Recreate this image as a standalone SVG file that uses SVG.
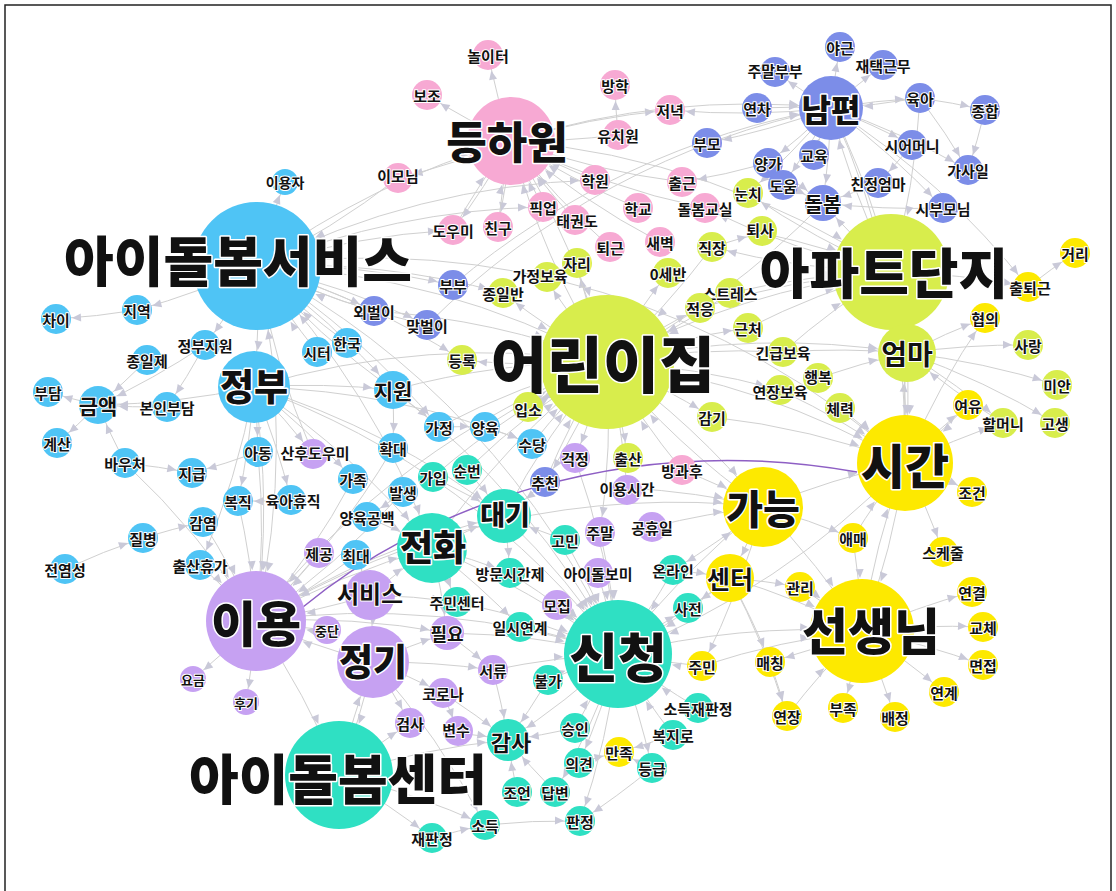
<svg xmlns="http://www.w3.org/2000/svg" width="1116" height="891" viewBox="0 0 1116 891">
<style>
.e{fill:none;stroke:#d0d0d0;stroke-width:1}
.ah{fill:#c9c9d8}
.b{fill:#4fc4f5}.p{fill:#f7a9d3}.v{fill:#7c8de8}.g{fill:#d8ed4c}.y{fill:#fde900}.l{fill:#c6a1f2}.t{fill:#2fe0c3}
text{font-family:"Noto Sans CJK KR","Noto Sans",sans-serif;font-weight:700;text-anchor:middle;dominant-baseline:central;fill:#111;stroke:#fff;stroke-width:2;paint-order:stroke;stroke-linejoin:round}
.xs{font-size:13px}
.k{font-weight:900;stroke-width:3}
</style>
<defs>
<marker id="m13" markerUnits="userSpaceOnUse" markerWidth="9" markerHeight="8" refX="23" refY="4" orient="auto" overflow="visible"><path class="ah" d="M0 0L9 4L0 8z"/></marker>
<marker id="m14" markerUnits="userSpaceOnUse" markerWidth="9" markerHeight="8" refX="25" refY="4" orient="auto" overflow="visible"><path class="ah" d="M0 0L9 4L0 8z"/></marker>
<marker id="m16" markerUnits="userSpaceOnUse" markerWidth="9" markerHeight="8" refX="27" refY="4" orient="auto" overflow="visible"><path class="ah" d="M0 0L9 4L0 8z"/></marker>
<marker id="m18" markerUnits="userSpaceOnUse" markerWidth="9" markerHeight="8" refX="29" refY="4" orient="auto" overflow="visible"><path class="ah" d="M0 0L9 4L0 8z"/></marker>
<marker id="m19" markerUnits="userSpaceOnUse" markerWidth="9" markerHeight="8" refX="30" refY="4" orient="auto" overflow="visible"><path class="ah" d="M0 0L9 4L0 8z"/></marker>
<marker id="m21" markerUnits="userSpaceOnUse" markerWidth="9" markerHeight="8" refX="31" refY="4" orient="auto" overflow="visible"><path class="ah" d="M0 0L9 4L0 8z"/></marker>
<marker id="m24" markerUnits="userSpaceOnUse" markerWidth="9" markerHeight="8" refX="34" refY="4" orient="auto" overflow="visible"><path class="ah" d="M0 0L9 4L0 8z"/></marker>
<marker id="m25" markerUnits="userSpaceOnUse" markerWidth="9" markerHeight="8" refX="35" refY="4" orient="auto" overflow="visible"><path class="ah" d="M0 0L9 4L0 8z"/></marker>
<marker id="m27" markerUnits="userSpaceOnUse" markerWidth="9" markerHeight="8" refX="37" refY="4" orient="auto" overflow="visible"><path class="ah" d="M0 0L9 4L0 8z"/></marker>
<marker id="m29" markerUnits="userSpaceOnUse" markerWidth="9" markerHeight="8" refX="39" refY="4" orient="auto" overflow="visible"><path class="ah" d="M0 0L9 4L0 8z"/></marker>
<marker id="m32" markerUnits="userSpaceOnUse" markerWidth="9" markerHeight="8" refX="42" refY="4" orient="auto" overflow="visible"><path class="ah" d="M0 0L9 4L0 8z"/></marker>
<marker id="m35" markerUnits="userSpaceOnUse" markerWidth="9" markerHeight="8" refX="45" refY="4" orient="auto" overflow="visible"><path class="ah" d="M0 0L9 4L0 8z"/></marker>
<marker id="m36" markerUnits="userSpaceOnUse" markerWidth="9" markerHeight="8" refX="46" refY="4" orient="auto" overflow="visible"><path class="ah" d="M0 0L9 4L0 8z"/></marker>
<marker id="m40" markerUnits="userSpaceOnUse" markerWidth="9" markerHeight="8" refX="50" refY="4" orient="auto" overflow="visible"><path class="ah" d="M0 0L9 4L0 8z"/></marker>
<marker id="m44" markerUnits="userSpaceOnUse" markerWidth="9" markerHeight="8" refX="54" refY="4" orient="auto" overflow="visible"><path class="ah" d="M0 0L9 4L0 8z"/></marker>
<marker id="m48" markerUnits="userSpaceOnUse" markerWidth="9" markerHeight="8" refX="58" refY="4" orient="auto" overflow="visible"><path class="ah" d="M0 0L9 4L0 8z"/></marker>
<marker id="m50" markerUnits="userSpaceOnUse" markerWidth="9" markerHeight="8" refX="60" refY="4" orient="auto" overflow="visible"><path class="ah" d="M0 0L9 4L0 8z"/></marker>
<marker id="m52" markerUnits="userSpaceOnUse" markerWidth="9" markerHeight="8" refX="62" refY="4" orient="auto" overflow="visible"><path class="ah" d="M0 0L9 4L0 8z"/></marker>
<marker id="m54" markerUnits="userSpaceOnUse" markerWidth="9" markerHeight="8" refX="64" refY="4" orient="auto" overflow="visible"><path class="ah" d="M0 0L9 4L0 8z"/></marker>
<marker id="m58" markerUnits="userSpaceOnUse" markerWidth="9" markerHeight="8" refX="68" refY="4" orient="auto" overflow="visible"><path class="ah" d="M0 0L9 4L0 8z"/></marker>
<marker id="m64" markerUnits="userSpaceOnUse" markerWidth="9" markerHeight="8" refX="74" refY="4" orient="auto" overflow="visible"><path class="ah" d="M0 0L9 4L0 8z"/></marker>
<marker id="m67" markerUnits="userSpaceOnUse" markerWidth="9" markerHeight="8" refX="77" refY="4" orient="auto" overflow="visible"><path class="ah" d="M0 0L9 4L0 8z"/></marker>
</defs>
<rect x="0" y="0" width="1116" height="891" fill="#fff"/>
<path d="M5 891V5H1111V891" fill="none" stroke="#222" stroke-width="1.5"/>
<g id="connectors">
<g class="e" marker-end="url(#m13)">
<path d="M257 266A800 800 0 0 1 285 182"/><path d="M256 621A800 800 0 0 1 193 679"/><path d="M256 621A800 800 0 0 1 246 702"/>
</g>
<g class="e" marker-end="url(#m14)">
<path d="M137 310A800 800 0 0 1 56 319"/><path d="M257 266A800 800 0 0 1 137 310"/><path d="M98 405A800 800 0 0 1 48 392"/><path d="M98 405A800 800 0 0 1 57 443"/><path d="M205 345A800 800 0 0 1 167 407"/><path d="M125 463A800 800 0 0 1 192 473"/><path d="M258 452A800 800 0 0 1 192 473"/><path d="M65 569A800 800 0 0 1 143 538"/><path d="M143 538A800 800 0 0 1 203 522"/><path d="M291 500A800 800 0 0 1 238 501"/><path d="M257 266A800 800 0 0 1 205 345"/><path d="M254 387A800 800 0 0 1 258 452"/><path d="M393 390A800 800 0 0 1 393 448"/><path d="M393 390A800 800 0 0 1 439 427"/><path d="M439 427A800 800 0 0 1 485 427"/><path d="M485 427A800 800 0 0 1 532 444"/><path d="M254 387A800 800 0 0 1 532 444"/><path d="M254 387A800 800 0 0 1 353 479"/><path d="M403 492A800 800 0 0 1 367 517"/><path d="M257 266A800 800 0 0 1 453 285"/><path d="M257 266A800 800 0 0 1 503 293"/><path d="M257 266A800 800 0 0 1 453 230"/><path d="M618 654A800 800 0 0 1 688 608"/><path d="M652 768A800 800 0 0 1 619 752"/><path d="M673 735A800 800 0 0 1 619 752"/><path d="M579 763A800 800 0 0 1 619 752"/><path d="M652 768A800 800 0 0 1 580 821"/><path d="M485 825A800 800 0 0 1 580 821"/><path d="M432 838A800 800 0 0 1 485 825"/><path d="M373 662A800 800 0 0 1 443 693"/><path d="M373 662A800 800 0 0 1 410 723"/><path d="M443 693A800 800 0 0 1 458 733"/><path d="M373 662A800 800 0 0 1 485 825"/><path d="M339 775A800 800 0 0 1 485 825"/><path d="M447 633A800 800 0 0 1 493 670"/><path d="M432 548A800 800 0 0 1 457 602"/><path d="M862 631A800 800 0 0 1 972 592"/><path d="M862 631A800 800 0 0 1 983 627"/><path d="M862 631A800 800 0 0 1 983 665"/><path d="M862 631A800 800 0 0 1 944 692"/><path d="M862 631A800 800 0 0 1 895 717"/><path d="M862 631A800 800 0 0 1 843 708"/><path d="M862 631A800 800 0 0 1 770 662"/><path d="M770 662A800 800 0 0 1 787 716"/><path d="M905 463A800 800 0 0 1 972 492"/><path d="M905 463A800 800 0 0 1 943 552"/><path d="M905 463A800 800 0 0 1 968 405"/><path d="M730 578A800 800 0 0 1 800 587"/><path d="M907 353A800 800 0 0 1 1028 345"/><path d="M907 353A800 800 0 0 1 1057 385"/><path d="M907 353A800 800 0 0 1 1055 423"/><path d="M907 353A800 800 0 0 1 985 318"/><path d="M891 272A800 800 0 0 1 1028 287"/><path d="M1028 287A800 800 0 0 1 1075 253"/><path d="M831 108A800 800 0 0 1 1028 287"/><path d="M905 463A800 800 0 0 1 985 318"/><path d="M607 362A800 800 0 0 1 528 405"/><path d="M607 362A800 800 0 0 1 462 360"/><path d="M607 362A800 800 0 0 1 712 417"/><path d="M607 362A800 800 0 0 1 628 458"/><path d="M607 362A800 800 0 0 1 575 458"/><path d="M607 362A800 800 0 0 1 700 308"/><path d="M607 362A800 800 0 0 1 748 328"/><path d="M607 362A800 800 0 0 1 783 352"/><path d="M607 362A800 800 0 0 1 780 390"/><path d="M607 362A800 800 0 0 1 545 277"/><path d="M607 362A800 800 0 0 1 503 293"/><path d="M607 362A800 800 0 0 1 668 273"/><path d="M607 362A800 800 0 0 1 577 263"/><path d="M511 141A800 800 0 0 1 488 55"/><path d="M511 141A800 800 0 0 1 427 95"/><path d="M511 141A800 800 0 0 1 398 178"/><path d="M618 135A800 800 0 0 1 615 85"/><path d="M511 141A800 800 0 0 1 670 110"/><path d="M831 108A800 800 0 0 1 670 110"/><path d="M768 163A800 800 0 0 1 682 182"/><path d="M712 247A800 800 0 0 1 762 233"/><path d="M831 108A800 800 0 0 1 840 47"/><path d="M831 108A800 800 0 0 1 883 65"/><path d="M831 108A800 800 0 0 1 775 72"/><path d="M831 108A800 800 0 0 1 920 98"/><path d="M920 98A800 800 0 0 1 985 110"/><path d="M985 110A800 800 0 0 1 968 170"/><path d="M920 98A800 800 0 0 1 968 170"/><path d="M831 108A800 800 0 0 1 912 145"/><path d="M831 108A800 800 0 0 1 968 170"/><path d="M912 145A800 800 0 0 1 878 183"/><path d="M831 108A800 800 0 0 1 943 208"/><path d="M831 108A800 800 0 0 1 707 143"/><path d="M257 266A800 800 0 0 1 543 207"/><path d="M257 266A800 800 0 0 1 595 180"/><path d="M730 578A800 800 0 0 1 688 608"/>
<path d="M907 353A800 800 0 0 1 1003 423"/><path d="M905 463A800 800 0 0 1 1003 423"/><path d="M618 654A800 800 0 0 1 580 821"/><path d="M618 654A800 800 0 0 1 652 768"/><path d="M618 654A800 800 0 0 1 579 763"/><path d="M618 654A800 800 0 0 1 555 792"/><path d="M339 775A800 800 0 0 1 410 723"/><path d="M339 775A800 800 0 0 1 432 838"/><path d="M373 662A800 800 0 0 1 493 670"/><path d="M370 595A800 800 0 0 1 457 602"/><path d="M432 548A800 800 0 0 1 510 573"/><path d="M432 548A800 800 0 0 1 520 627"/><path d="M504 516A800 800 0 0 1 510 573"/><path d="M763 507A800 800 0 0 1 673 570"/><path d="M763 507A800 800 0 0 1 702 666"/><path d="M730 578A800 800 0 0 1 770 662"/><path d="M730 578A800 800 0 0 1 787 716"/><path d="M763 507A800 800 0 0 1 853 538"/><path d="M607 362A800 800 0 0 1 627 488"/><path d="M607 362A800 800 0 0 1 600 532"/><path d="M607 362A800 800 0 0 1 545 482"/><path d="M257 266A800 800 0 0 1 374 311"/><path d="M257 266A800 800 0 0 1 427 325"/><path d="M257 266A800 800 0 0 1 462 360"/><path d="M257 266A800 800 0 0 1 439 427"/><path d="M254 387A800 800 0 0 1 313 454"/><path d="M254 387A800 800 0 0 1 291 500"/><path d="M254 387A800 800 0 0 1 238 501"/><path d="M254 387A800 800 0 0 1 200 565"/><path d="M831 108A800 800 0 0 1 783 185"/><path d="M831 108A800 800 0 0 1 768 163"/><path d="M831 108A800 800 0 0 1 748 193"/><path d="M891 272A800 800 0 0 1 748 193"/><path d="M891 272A800 800 0 0 1 712 247"/><path d="M891 272A800 800 0 0 1 705 208"/><path d="M511 141A800 800 0 0 1 453 230"/><path d="M511 141A800 800 0 0 1 498 227"/>
</g>
<g class="e" marker-end="url(#m16)"><path d="M432 548A800 800 0 0 1 447 633"/><path d="M256 621A800 800 0 0 1 447 633"/><path d="M373 662A800 800 0 0 1 447 633"/></g>
<g class="e" marker-end="url(#m18)">
<path d="M891 272A800 800 0 0 1 823 203"/><path d="M878 183A800 800 0 0 1 823 203"/><path d="M943 208A800 800 0 0 1 823 203"/><path d="M768 163A800 800 0 0 1 823 203"/><path d="M783 185A800 800 0 0 1 823 203"/><path d="M831 108A800 800 0 0 1 823 203"/>
</g>
<g class="e" marker-end="url(#m19)">
<path d="M125 463A800 800 0 0 1 98 405"/><path d="M147 360A800 800 0 0 1 98 405"/><path d="M205 345A800 800 0 0 1 98 405"/><path d="M254 387A800 800 0 0 1 98 405"/><path d="M167 407A800 800 0 0 1 98 405"/><path d="M254 387A800 800 0 0 1 393 390"/><path d="M257 266A800 800 0 0 1 393 390"/>
</g>
<g class="e" marker-end="url(#m21)">
<path d="M517 792A800 800 0 0 1 508 740"/><path d="M555 792A800 800 0 0 1 508 740"/><path d="M493 670A800 800 0 0 1 508 740"/><path d="M548 680A800 800 0 0 1 508 740"/><path d="M443 693A800 800 0 0 1 508 740"/><path d="M458 733A800 800 0 0 1 508 740"/><path d="M618 654A800 800 0 0 1 508 740"/><path d="M575 728A800 800 0 0 1 508 740"/><path d="M339 775A800 800 0 0 1 508 740"/>
</g>
<g class="e" marker-end="url(#m24)"><path d="M763 507A800 800 0 0 1 730 578"/><path d="M673 570A800 800 0 0 1 730 578"/></g>
<g class="e" marker-end="url(#m25)"><path d="M356 555A800 800 0 0 1 370 595"/></g>
<g class="e" marker-end="url(#m27)">
<path d="M432 548A800 800 0 0 1 504 516"/><path d="M433 477A800 800 0 0 1 504 516"/><path d="M467 470A800 800 0 0 1 504 516"/><path d="M545 482A800 800 0 0 1 504 516"/><path d="M565 540A800 800 0 0 1 504 516"/><path d="M254 387A800 800 0 0 1 504 516"/><path d="M256 621A800 800 0 0 1 504 516"/>
</g>
<g class="e" marker-end="url(#m29)">
<path d="M891 272A800 800 0 0 1 907 353"/><path d="M905 463A800 800 0 0 1 907 353"/><path d="M1003 423A800 800 0 0 1 907 353"/><path d="M818 378A800 800 0 0 1 907 353"/><path d="M783 352A800 800 0 0 1 907 353"/><path d="M607 362A800 800 0 0 1 907 353"/><path d="M831 108A800 800 0 0 1 907 353"/>
</g>
<g class="e" marker-end="url(#m32)">
<path d="M757 108A800 800 0 0 1 831 108"/><path d="M920 98A800 800 0 0 1 831 108"/><path d="M814 155A800 800 0 0 1 831 108"/><path d="M891 272A800 800 0 0 1 831 108"/><path d="M453 285A800 800 0 0 1 831 108"/><path d="M427 325A800 800 0 0 1 831 108"/><path d="M511 141A800 800 0 0 1 831 108"/>
</g>
<g class="e" marker-end="url(#m35)">
<path d="M257 266A800 800 0 0 1 432 548"/><path d="M370 595A800 800 0 0 1 432 548"/><path d="M254 387A800 800 0 0 1 432 548"/><path d="M367 517A800 800 0 0 1 432 548"/><path d="M256 621A800 800 0 0 1 432 548"/>
</g>
<g class="e" marker-end="url(#m36)">
<path d="M257 266A800 800 0 0 1 254 387"/><path d="M370 595A800 800 0 0 1 373 662"/><path d="M339 775A800 800 0 0 1 373 662"/>
</g>
<g class="e" marker-end="url(#m40)">
<path d="M607 362A800 800 0 0 1 763 507"/><path d="M618 654A800 800 0 0 1 763 507"/><path d="M627 488A800 800 0 0 1 763 507"/><path d="M682 470A800 800 0 0 1 763 507"/><path d="M652 527A800 800 0 0 1 763 507"/><path d="M256 621A800 800 0 0 1 763 507"/>
</g>
<g class="e" marker-end="url(#m44)">
<path d="M257 266A800 800 0 0 1 511 141"/><path d="M607 362A800 800 0 0 1 511 141"/><path d="M610 247A800 800 0 0 1 511 141"/><path d="M575 220A800 800 0 0 1 511 141"/><path d="M543 207A800 800 0 0 1 511 141"/><path d="M498 227A800 800 0 0 1 511 141"/><path d="M453 230A800 800 0 0 1 511 141"/><path d="M595 180A800 800 0 0 1 511 141"/><path d="M638 208A800 800 0 0 1 511 141"/><path d="M660 242A800 800 0 0 1 511 141"/><path d="M705 208A800 800 0 0 1 511 141"/><path d="M682 182A800 800 0 0 1 511 141"/><path d="M618 135A800 800 0 0 1 511 141"/>
</g>
<g class="e" marker-end="url(#m48)">
<path d="M763 507A800 800 0 0 1 905 463"/><path d="M968 405A800 800 0 0 1 905 463"/><path d="M907 353A800 800 0 0 1 905 463"/><path d="M862 631A800 800 0 0 1 905 463"/><path d="M607 362A800 800 0 0 1 905 463"/><path d="M840 408A800 800 0 0 1 905 463"/><path d="M780 390A800 800 0 0 1 905 463"/><path d="M712 417A800 800 0 0 1 905 463"/><path d="M853 538A800 800 0 0 1 905 463"/><path d="M257 266A800 800 0 0 1 905 463"/><path d="M891 272A800 800 0 0 1 905 463"/><path d="M831 108A800 800 0 0 1 905 463"/>
</g>
<g class="e" marker-end="url(#m50)">
<path d="M254 387A800 800 0 0 1 256 621"/><path d="M257 266A800 800 0 0 1 256 621"/><path d="M200 565A800 800 0 0 1 256 621"/><path d="M203 522A800 800 0 0 1 256 621"/><path d="M258 452A800 800 0 0 1 256 621"/><path d="M125 463A800 800 0 0 1 256 621"/><path d="M356 555A800 800 0 0 1 256 621"/><path d="M319 553A800 800 0 0 1 256 621"/><path d="M327 630A800 800 0 0 1 256 621"/><path d="M370 595A800 800 0 0 1 256 621"/><path d="M373 662A800 800 0 0 1 256 621"/><path d="M393 448A800 800 0 0 1 256 621"/><path d="M353 479A800 800 0 0 1 256 621"/><path d="M403 492A800 800 0 0 1 256 621"/><path d="M238 501A800 800 0 0 1 256 621"/>
</g>
<g class="e" marker-end="url(#m52)">
<path d="M787 716A800 800 0 0 1 862 631"/><path d="M905 463A800 800 0 0 1 862 631"/><path d="M800 587A800 800 0 0 1 862 631"/><path d="M763 507A800 800 0 0 1 862 631"/><path d="M618 654A800 800 0 0 1 862 631"/><path d="M730 578A800 800 0 0 1 862 631"/><path d="M853 538A800 800 0 0 1 862 631"/><path d="M702 666A800 800 0 0 1 862 631"/>
</g>
<g class="e" marker-end="url(#m54)">
<path d="M257 266A800 800 0 0 1 618 654"/><path d="M254 387A800 800 0 0 1 618 654"/><path d="M432 548A800 800 0 0 1 618 654"/><path d="M510 573A800 800 0 0 1 618 654"/><path d="M457 602A800 800 0 0 1 618 654"/><path d="M520 627A800 800 0 0 1 618 654"/><path d="M557 605A800 800 0 0 1 618 654"/><path d="M447 633A800 800 0 0 1 618 654"/><path d="M493 670A800 800 0 0 1 618 654"/><path d="M548 680A800 800 0 0 1 618 654"/><path d="M673 570A800 800 0 0 1 618 654"/><path d="M702 666A800 800 0 0 1 618 654"/><path d="M698 708A800 800 0 0 1 618 654"/><path d="M673 735A800 800 0 0 1 618 654"/><path d="M575 728A800 800 0 0 1 618 654"/><path d="M730 578A800 800 0 0 1 618 654"/><path d="M504 516A800 800 0 0 1 618 654"/><path d="M598 573A800 800 0 0 1 618 654"/><path d="M600 532A800 800 0 0 1 618 654"/><path d="M565 540A800 800 0 0 1 618 654"/><path d="M393 390A800 800 0 0 1 618 654"/><path d="M575 458A800 800 0 0 1 618 654"/><path d="M905 463A800 800 0 0 1 618 654"/><path d="M256 621A800 800 0 0 1 618 654"/><path d="M256 621A800 800 0 0 1 339 775"/><path d="M373 662A800 800 0 0 1 339 775"/>
</g>
<g class="e" marker-end="url(#m58)">
<path d="M607 362A800 800 0 0 1 891 272"/><path d="M762 233A800 800 0 0 1 891 272"/><path d="M920 98A800 800 0 0 1 891 272"/><path d="M511 141A800 800 0 0 1 891 272"/><path d="M700 308A800 800 0 0 1 891 272"/><path d="M748 328A800 800 0 0 1 891 272"/><path d="M730 293A800 800 0 0 1 891 272"/><path d="M783 352A800 800 0 0 1 891 272"/>
</g>
<g class="e" marker-end="url(#m64)">
<path d="M317 352A800 800 0 0 1 257 266"/><path d="M347 343A800 800 0 0 1 257 266"/><path d="M393 390A800 800 0 0 1 257 266"/><path d="M374 311A800 800 0 0 1 257 266"/><path d="M427 325A800 800 0 0 1 257 266"/><path d="M398 178A800 800 0 0 1 257 266"/><path d="M313 454A800 800 0 0 1 257 266"/>
</g>
<g class="e" marker-end="url(#m67)">
<path d="M393 390A800 800 0 0 1 607 362"/><path d="M504 516A800 800 0 0 1 607 362"/><path d="M712 247A800 800 0 0 1 607 362"/><path d="M730 293A800 800 0 0 1 607 362"/><path d="M682 470A800 800 0 0 1 607 362"/><path d="M374 311A800 800 0 0 1 607 362"/><path d="M823 203A800 800 0 0 1 607 362"/><path d="M439 427A800 800 0 0 1 607 362"/><path d="M485 427A800 800 0 0 1 607 362"/><path d="M532 444A800 800 0 0 1 607 362"/><path d="M433 477A800 800 0 0 1 607 362"/><path d="M467 470A800 800 0 0 1 607 362"/><path d="M763 507A800 800 0 0 1 607 362"/><path d="M511 141A800 800 0 0 1 607 362"/><path d="M545 482A800 800 0 0 1 607 362"/><path d="M256 621A800 800 0 0 1 607 362"/><path d="M432 548A800 800 0 0 1 607 362"/><path d="M257 266A800 800 0 0 1 607 362"/><path d="M254 387A800 800 0 0 1 607 362"/>
</g>
<path d="M303 607C420 510 620 430 857 472" fill="none" stroke="#8e5fc4" stroke-width="1.5"/>
</g>
<g id="nodes" font-size="15">
<g id="n_svc"><circle class="b" cx="257" cy="266" r="64"/><text class="k" x="238" y="258" font-size="54">아이돌봄서비스</text></g>
<g id="n_user"><circle class="b" cx="285" cy="182" r="13"/><text x="285" y="182" font-size="14">이용자</text></g>
<g id="n_diff"><circle class="b" cx="56" cy="319" r="15"/><text x="56" y="319">차이</text></g>
<g id="n_region"><circle class="b" cx="137" cy="310" r="15"/><text x="137" y="310">지역</text></g>
<g id="n_govsup"><circle class="b" cx="205" cy="345" r="15"/><text x="205" y="345">정부지원</text></g>
<g id="n_fullday"><circle class="b" cx="147" cy="360" r="15"/><text x="147" y="360">종일제</text></g>
<g id="n_burden"><circle class="b" cx="48" cy="392" r="15"/><text x="48" y="392">부담</text></g>
<g id="n_amount"><circle class="b" cx="98" cy="405" r="19"/><text x="98" y="405" font-size="21">금액</text></g>
<g id="n_selfpay"><circle class="b" cx="167" cy="407" r="15"/><text x="167" y="407">본인부담</text></g>
<g id="n_calc"><circle class="b" cx="57" cy="443" r="15"/><text x="57" y="443">계산</text></g>
<g id="n_voucher"><circle class="b" cx="125" cy="463" r="15"/><text x="125" y="463">바우처</text></g>
<g id="n_pay"><circle class="b" cx="192" cy="473" r="15"/><text x="192" y="473">지급</text></g>
<g id="n_child"><circle class="b" cx="258" cy="452" r="15"/><text x="258" y="452">아동</text></g>
<g id="n_gov"><circle class="b" cx="254" cy="387" r="36"/><text class="k" x="254" y="385" font-size="37">정부</text></g>
<g id="n_return"><circle class="b" cx="238" cy="501" r="15"/><text x="238" y="501">복직</text></g>
<g id="n_parental"><circle class="b" cx="291" cy="500" r="15"/><text x="293" y="500">육아휴직</text></g>
<g id="n_infect"><circle class="b" cx="203" cy="522" r="15"/><text x="203" y="522">감염</text></g>
<g id="n_disease"><circle class="b" cx="143" cy="538" r="15"/><text x="143" y="538">질병</text></g>
<g id="n_contag"><circle class="b" cx="65" cy="569" r="15"/><text x="65" y="569">전염성</text></g>
<g id="n_matern"><circle class="b" cx="200" cy="565" r="15"/><text x="200" y="565">출산휴가</text></g>
<g id="n_support"><circle class="b" cx="393" cy="390" r="19"/><text x="393" y="390" font-size="21">지원</text></g>
<g id="n_korea"><circle class="b" cx="347" cy="343" r="15"/><text x="347" y="343">한국</text></g>
<g id="n_sitter"><circle class="b" cx="317" cy="352" r="15"/><text x="317" y="352">시터</text></g>
<g id="n_home"><circle class="b" cx="439" cy="427" r="15"/><text x="439" y="427">가정</text></g>
<g id="n_rearing"><circle class="b" cx="485" cy="427" r="15"/><text x="485" y="427">양육</text></g>
<g id="n_allow"><circle class="b" cx="532" cy="444" r="15"/><text x="532" y="444">수당</text></g>
<g id="n_expand"><circle class="b" cx="393" cy="448" r="15"/><text x="393" y="448">확대</text></g>
<g id="n_family"><circle class="b" cx="353" cy="479" r="15"/><text x="353" y="479">가족</text></g>
<g id="n_occur"><circle class="b" cx="403" cy="492" r="15"/><text x="403" y="492">발생</text></g>
<g id="n_gap"><circle class="b" cx="367" cy="517" r="15"/><text x="367" y="517">양육공백</text></g>
<g id="n_max"><circle class="b" cx="356" cy="555" r="15"/><text x="356" y="555">최대</text></g>
<g id="n_use"><circle class="l" cx="256" cy="621" r="50"/><text class="k" x="256" y="620" font-size="49">이용</text></g>
<g id="n_fee"><circle class="l" cx="193" cy="679" r="13"/><text class="xs" x="193" y="679">요금</text></g>
<g id="n_review"><circle class="l" cx="246" cy="702" r="13"/><text class="xs" x="246" y="702">후기</text></g>
<g id="n_postnatal"><circle class="l" cx="313" cy="454" r="15"/><text x="315" y="452">산후도우미</text></g>
<g id="n_provide"><circle class="l" cx="319" cy="553" r="15"/><text x="319" y="553">제공</text></g>
<g id="n_service"><circle class="l" cx="370" cy="595" r="25"/><text x="370" y="592" font-size="24">서비스</text></g>
<g id="n_stop"><circle class="l" cx="327" cy="630" r="14"/><text class="xs" x="327" y="630">중단</text></g>
<g id="n_regular"><circle class="l" cx="373" cy="662" r="36"/><text class="k" x="373" y="660" font-size="37">정기</text></g>
<g id="n_need"><circle class="l" cx="447" cy="633" r="17"/><text x="447" y="633" font-size="18">필요</text></g>
<g id="n_docs"><circle class="l" cx="493" cy="670" r="15"/><text x="493" y="670">서류</text></g>
<g id="n_corona"><circle class="l" cx="443" cy="693" r="15"/><text x="443" y="693">코로나</text></g>
<g id="n_test"><circle class="l" cx="410" cy="723" r="15"/><text x="410" y="723">검사</text></g>
<g id="n_var"><circle class="l" cx="458" cy="731" r="15"/><text x="456" y="729">변수</text></g>
<g id="n_recruit"><circle class="l" cx="557" cy="605" r="15"/><text x="557" y="605">모집</text></g>
<g id="n_worry"><circle class="l" cx="575" cy="458" r="15"/><text x="575" y="458">걱정</text></g>
<g id="n_usetime"><circle class="l" cx="627" cy="490" r="15"/><text x="627" y="488">이용시간</text></g>
<g id="n_weekend"><circle class="l" cx="600" cy="532" r="15"/><text x="600" y="532">주말</text></g>
<g id="n_holiday"><circle class="l" cx="652" cy="527" r="15"/><text x="652" y="527">공휴일</text></g>
<g id="n_carer"><circle class="l" cx="598" cy="573" r="15"/><text x="598" y="573">아이돌보미</text></g>
<g id="n_center6"><circle class="t" cx="339" cy="775" r="54"/><text class="k" x="338" y="776" font-size="54">아이돌봄센터</text></g>
<g id="n_phone"><circle class="t" cx="432" cy="548" r="35"/><text class="k" x="433" y="545" font-size="36">전화</text></g>
<g id="n_wait"><circle class="t" cx="504" cy="516" r="27"/><text class="k" x="505" y="513" font-size="27">대기</text></g>
<g id="n_join"><circle class="t" cx="433" cy="477" r="15"/><text x="433" y="477">가입</text></g>
<g id="n_turn"><circle class="t" cx="467" cy="470" r="15"/><text x="467" y="470">순번</text></g>
<g id="n_concern"><circle class="t" cx="565" cy="540" r="15"/><text x="565" y="540">고민</text></g>
<g id="n_online"><circle class="t" cx="673" cy="570" r="15"/><text x="673" y="570">온라인</text></g>
<g id="n_visit"><circle class="t" cx="510" cy="573" r="15"/><text x="510" y="573">방문시간제</text></g>
<g id="n_commcenter"><circle class="t" cx="457" cy="602" r="15"/><text x="457" y="602">주민센터</text></g>
<g id="n_templink"><circle class="t" cx="520" cy="627" r="15"/><text x="520" y="627">일시연계</text></g>
<g id="n_prior"><circle class="t" cx="688" cy="608" r="15"/><text x="688" y="608">사전</text></g>
<g id="n_apply"><circle class="t" cx="618" cy="654" r="54"/><text class="k" x="618" y="655" font-size="53">신청</text></g>
<g id="n_imposs"><circle class="t" cx="548" cy="680" r="15"/><text x="548" y="680">불가</text></g>
<g id="n_audit"><circle class="t" cx="508" cy="740" r="21"/><text x="511" y="741" font-size="22">감사</text></g>
<g id="n_approve"><circle class="t" cx="575" cy="728" r="15"/><text x="575" y="728">승인</text></g>
<g id="n_rejudge"><circle class="t" cx="698" cy="708" r="15"/><text x="698" y="708">소득재판정</text></g>
<g id="n_welfare"><circle class="t" cx="673" cy="735" r="15"/><text x="673" y="735">복지로</text></g>
<g id="n_opinion"><circle class="t" cx="579" cy="763" r="15"/><text x="579" y="763">의견</text></g>
<g id="n_grade"><circle class="t" cx="652" cy="768" r="15"/><text x="652" y="768">등급</text></g>
<g id="n_advice"><circle class="t" cx="517" cy="792" r="15"/><text x="517" y="792">조언</text></g>
<g id="n_answer"><circle class="t" cx="555" cy="792" r="15"/><text x="555" y="792">답변</text></g>
<g id="n_income"><circle class="t" cx="485" cy="825" r="15"/><text x="485" y="825">소득</text></g>
<g id="n_judge"><circle class="t" cx="580" cy="821" r="15"/><text x="580" y="821">판정</text></g>
<g id="n_re2"><circle class="t" cx="432" cy="838" r="15"/><text x="432" y="838">재판정</text></g>
<g id="n_poss"><circle class="y" cx="763" cy="507" r="40"/><text class="k" x="763" y="507" font-size="40">가능</text></g>
<g id="n_ctr"><circle class="y" cx="730" cy="578" r="24"/><text x="730" y="578" font-size="25">센터</text></g>
<g id="n_manage"><circle class="y" cx="800" cy="587" r="15"/><text x="800" y="587">관리</text></g>
<g id="n_vague"><circle class="y" cx="853" cy="538" r="15"/><text x="853" y="538">애매</text></g>
<g id="n_time"><circle class="y" cx="905" cy="463" r="48"/><text class="k" x="905" y="463" font-size="48">시간</text></g>
<g id="n_cond"><circle class="y" cx="972" cy="492" r="15"/><text x="972" y="492">조건</text></g>
<g id="n_sched"><circle class="y" cx="943" cy="552" r="15"/><text x="943" y="552">스케줄</text></g>
<g id="n_connect"><circle class="y" cx="972" cy="592" r="15"/><text x="972" y="592">연결</text></g>
<g id="n_replace"><circle class="y" cx="983" cy="627" r="15"/><text x="983" y="627">교체</text></g>
<g id="n_interview"><circle class="y" cx="983" cy="665" r="15"/><text x="983" y="665">면접</text></g>
<g id="n_link"><circle class="y" cx="944" cy="692" r="15"/><text x="944" y="692">연계</text></g>
<g id="n_assign"><circle class="y" cx="895" cy="717" r="15"/><text x="895" y="717">배정</text></g>
<g id="n_lack"><circle class="y" cx="843" cy="708" r="15"/><text x="843" y="708">부족</text></g>
<g id="n_teacher"><circle class="y" cx="862" cy="631" r="52"/><text class="k" x="871" y="628" font-size="50">선생님</text></g>
<g id="n_match"><circle class="y" cx="770" cy="662" r="15"/><text x="770" y="662">매칭</text></g>
<g id="n_extend"><circle class="y" cx="787" cy="716" r="15"/><text x="787" y="716">연장</text></g>
<g id="n_resident"><circle class="y" cx="702" cy="666" r="15"/><text x="702" y="666">주민</text></g>
<g id="n_satisfy"><circle class="y" cx="619" cy="752" r="15"/><text x="619" y="752">만족</text></g>
<g id="n_leisure"><circle class="y" cx="968" cy="405" r="15"/><text x="968" y="405">여유</text></g>
<g id="n_agree"><circle class="y" cx="985" cy="318" r="15"/><text x="985" y="318">협의</text></g>
<g id="n_commute"><circle class="y" cx="1028" cy="287" r="15"/><text x="1030" y="287">출퇴근</text></g>
<g id="n_dist"><circle class="y" cx="1075" cy="253" r="15"/><text x="1075" y="253">거리</text></g>
<g id="n_daycare"><circle class="g" cx="607" cy="362" r="67"/><text class="k" x="603" y="361" font-size="61">어린이집</text></g>
<g id="n_apt"><circle class="g" cx="891" cy="272" r="58"/><text class="k" x="884" y="270" font-size="54">아파트단지</text></g>
<g id="n_mom"><circle class="g" cx="907" cy="353" r="29"/><text x="907" y="353" font-size="28">엄마</text></g>
<g id="n_love"><circle class="g" cx="1028" cy="345" r="15"/><text x="1028" y="345">사랑</text></g>
<g id="n_sorry"><circle class="g" cx="1057" cy="385" r="15"/><text x="1057" y="385">미안</text></g>
<g id="n_grandma"><circle class="g" cx="1003" cy="423" r="15"/><text x="1003" y="423">할머니</text></g>
<g id="n_hard"><circle class="g" cx="1055" cy="423" r="15"/><text x="1055" y="423">고생</text></g>
<g id="n_homecare"><circle class="g" cx="547" cy="277" r="15"/><text x="540" y="275">가정보육</text></g>
<g id="n_seat"><circle class="g" cx="577" cy="263" r="15"/><text x="577" y="263">자리</text></g>
<g id="n_fullclass"><circle class="g" cx="503" cy="293" r="15"/><text x="503" y="293">종일반</text></g>
<g id="n_zero"><circle class="g" cx="668" cy="273" r="15"/><text x="668" y="273">0세반</text></g>
<g id="n_job"><circle class="g" cx="712" cy="247" r="15"/><text x="712" y="247">직장</text></g>
<g id="n_quit"><circle class="g" cx="762" cy="231" r="15"/><text x="760" y="229">퇴사</text></g>
<g id="n_nunchi"><circle class="g" cx="748" cy="193" r="15"/><text x="748" y="193">눈치</text></g>
<g id="n_stress"><circle class="g" cx="730" cy="293" r="15"/><text x="730" y="293">스트레스</text></g>
<g id="n_adapt"><circle class="g" cx="700" cy="308" r="15"/><text x="700" y="308">적응</text></g>
<g id="n_near"><circle class="g" cx="748" cy="328" r="15"/><text x="748" y="328">근처</text></g>
<g id="n_emerg"><circle class="g" cx="783" cy="352" r="15"/><text x="783" y="352">긴급보육</text></g>
<g id="n_happy"><circle class="g" cx="818" cy="378" r="15"/><text x="818" y="376">행복</text></g>
<g id="n_extcare"><circle class="g" cx="780" cy="390" r="15"/><text x="780" y="391">연장보육</text></g>
<g id="n_stamina"><circle class="g" cx="840" cy="408" r="15"/><text x="840" y="408">체력</text></g>
<g id="n_cold"><circle class="g" cx="712" cy="417" r="15"/><text x="712" y="417">감기</text></g>
<g id="n_admit"><circle class="g" cx="528" cy="407" r="15"/><text x="528" y="409">입소</text></g>
<g id="n_reg"><circle class="g" cx="462" cy="360" r="15"/><text x="462" y="360">등록</text></g>
<g id="n_birth"><circle class="g" cx="628" cy="458" r="15"/><text x="628" y="458">출산</text></g>
<g id="n_pickup"><circle class="p" cx="511" cy="141" r="44"/><text class="k" x="507" y="140" font-size="44">등하원</text></g>
<g id="n_playg"><circle class="p" cx="488" cy="55" r="15"/><text x="488" y="55">놀이터</text></g>
<g id="n_aid"><circle class="p" cx="427" cy="95" r="15"/><text x="427" y="95">보조</text></g>
<g id="n_vac"><circle class="p" cx="615" cy="85" r="15"/><text x="615" y="85">방학</text></g>
<g id="n_eve"><circle class="p" cx="670" cy="110" r="15"/><text x="670" y="110">저녁</text></g>
<g id="n_kinder"><circle class="p" cx="618" cy="135" r="15"/><text x="618" y="135">유치원</text></g>
<g id="n_imo"><circle class="p" cx="398" cy="178" r="15"/><text x="398" y="175">이모님</text></g>
<g id="n_acad"><circle class="p" cx="595" cy="180" r="15"/><text x="595" y="180">학원</text></g>
<g id="n_gowork"><circle class="p" cx="682" cy="182" r="15"/><text x="682" y="182">출근</text></g>
<g id="n_pick"><circle class="p" cx="543" cy="207" r="15"/><text x="543" y="207">픽업</text></g>
<g id="n_school"><circle class="p" cx="638" cy="208" r="15"/><text x="638" y="208">학교</text></g>
<g id="n_careclass"><circle class="p" cx="705" cy="208" r="15"/><text x="705" y="208">돌봄교실</text></g>
<g id="n_tkd"><circle class="p" cx="575" cy="220" r="15"/><text x="577" y="220">태권도</text></g>
<g id="n_helper"><circle class="p" cx="453" cy="230" r="15"/><text x="453" y="230">도우미</text></g>
<g id="n_friend"><circle class="p" cx="498" cy="227" r="15"/><text x="498" y="227">친구</text></g>
<g id="n_leave"><circle class="p" cx="610" cy="247" r="15"/><text x="610" y="247">퇴근</text></g>
<g id="n_dawn"><circle class="p" cx="660" cy="242" r="15"/><text x="660" y="242">새벽</text></g>
<g id="n_after"><circle class="p" cx="682" cy="470" r="15"/><text x="682" y="470">방과후</text></g>
<g id="n_hus"><circle class="v" cx="831" cy="108" r="32"/><text class="k" x="831" y="108" font-size="32">남편</text></g>
<g id="n_night"><circle class="v" cx="840" cy="47" r="15"/><text x="840" y="47">야근</text></g>
<g id="n_remote"><circle class="v" cx="883" cy="65" r="15"/><text x="883" y="65">재택근무</text></g>
<g id="n_wknd"><circle class="v" cx="775" cy="72" r="15"/><text x="775" y="70">주말부부</text></g>
<g id="n_leaveday"><circle class="v" cx="757" cy="108" r="15"/><text x="757" y="108">연차</text></g>
<g id="n_childcare"><circle class="v" cx="920" cy="98" r="15"/><text x="920" y="98">육아</text></g>
<g id="n_total"><circle class="v" cx="985" cy="110" r="15"/><text x="985" y="110">종합</text></g>
<g id="n_parents"><circle class="v" cx="707" cy="143" r="15"/><text x="707" y="143">부모</text></g>
<g id="n_both"><circle class="v" cx="768" cy="163" r="15"/><text x="768" y="163">양가</text></g>
<g id="n_edu"><circle class="v" cx="814" cy="155" r="15"/><text x="814" y="155">교육</text></g>
<g id="n_mil"><circle class="v" cx="912" cy="145" r="15"/><text x="912" y="145">시어머니</text></g>
<g id="n_chores"><circle class="v" cx="968" cy="170" r="15"/><text x="968" y="170">가사일</text></g>
<g id="n_help"><circle class="v" cx="783" cy="185" r="15"/><text x="783" y="185">도움</text></g>
<g id="n_care"><circle class="v" cx="823" cy="203" r="18"/><text x="823" y="203" font-size="20">돌봄</text></g>
<g id="n_mymom"><circle class="v" cx="878" cy="183" r="15"/><text x="878" y="183">친정엄마</text></g>
<g id="n_inlaws"><circle class="v" cx="943" cy="208" r="15"/><text x="943" y="208">시부모님</text></g>
<g id="n_couple"><circle class="v" cx="453" cy="285" r="15"/><text x="453" y="285">부부</text></g>
<g id="n_single"><circle class="v" cx="374" cy="311" r="15"/><text x="374" y="311">외벌이</text></g>
<g id="n_dual"><circle class="v" cx="427" cy="325" r="15"/><text x="427" y="325">맞벌이</text></g>
<g id="n_recomm"><circle class="v" cx="545" cy="482" r="15"/><text x="545" y="482">추천</text></g>
</g>
</svg>
